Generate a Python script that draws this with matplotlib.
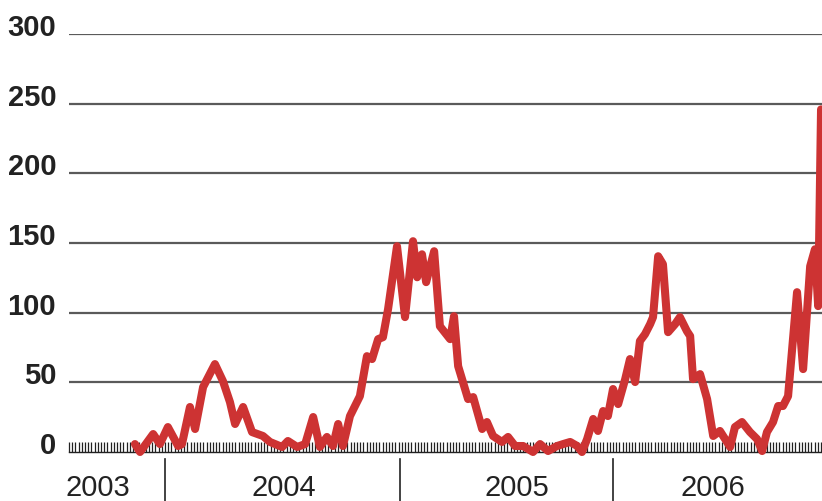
import matplotlib
matplotlib.use("Agg")
import matplotlib.pyplot as plt
import matplotlib.transforms as mtransforms
from matplotlib.ticker import MultipleLocator

plt.rcParams['font.family'] = ['Liberation Sans', 'DejaVu Sans']

# x in tick units along the time axis, y = reported count
x = [20.6, 22.2, 26.3, 28.4, 30.9, 34.1, 35.3, 37.8, 39.4, 41.9, 45.6, 48.1, 50.3, 51.9,
     54.4, 57.2, 60.6, 62.8, 66.6, 68.4, 71.3, 73.8, 76.3, 78.4, 80.6, 82.5, 84.1, 85.6,
     87.8, 90.9, 93.1, 94.7, 96.6, 98.1, 99.7, 102.5, 105.0, 107.5, 108.8, 110.3, 111.6,
     114.1, 115.9, 119.1, 120.3, 121.6, 124.7, 126.3, 129.1, 130.6, 132.5, 135.3, 137.2,
     139.4, 141.9, 145.0, 147.2, 149.7, 152.5, 154.4, 156.6, 158.8, 160.3, 161.9, 163.8,
     165.3, 166.9, 168.4, 170.0, 171.6, 173.8, 175.3, 176.9, 178.4, 180.0, 181.6, 182.5,
     184.1, 185.6, 187.2, 189.4, 190.9, 193.1, 194.1, 195.0, 197.2, 199.4, 201.3, 203.4,
     205.6, 206.6, 208.1, 210.3, 212.8, 215.0, 216.6, 218.1, 220.0, 221.6, 223.1, 224.7,
     227.5, 229.4, 231.6, 233.1, 234.1, 235.0]
y = [5.7, 0, 12.9, 5.7, 17.9, 4.3, 5.7, 32.3, 16.5, 46.6, 63.1, 50.9, 35.8, 20.1,
     32.3, 14.3, 11.5, 7.2, 3.6, 7.9, 3.6, 5.7, 25.1, 3.6, 10.8, 4.3, 20.1, 4.3,
     25.8, 40.1, 68.8, 66.7, 81, 82.4, 102.5, 147.7, 96.8, 151.3, 125.4, 141.9, 121.9,
     144.1, 90.3, 81, 97.5, 61.6, 38, 39.4, 16.5, 21.5, 11.5, 7.2, 10.8,
     4.3, 4.3, 0, 5.7, 0.7, 4.3, 5.7, 7.2, 4.3, 0, 9.3, 23.7,
     15.1, 29.4, 25.8, 45.2, 34.4, 52.3, 66.7, 50.2, 79.6, 84.6, 91.8, 96.8,
     140.5, 134.8, 86, 91.8, 96.8, 86.7, 83.2, 52.3, 55.9, 38, 11.5, 15.1,
     7.2, 3.6, 17.9, 21.5, 14.3, 9.3, 0.7, 14.3, 21.5, 33, 33, 40.1,
     114.7, 59.5, 133.3, 145.5, 104.7, 245.9]

y_ticks = [0, 50, 100, 150, 200, 250, 300]
year_labels = ['2003', '2004', '2005', '2006']
year_label_pos = [9.1, 67.2, 140.0, 201.3]
year_breaks = [30.0, 103.4, 170.0]

fig = plt.figure(figsize=(8.22, 5.02), dpi=100)
ax = fig.add_axes([69 / 822, 49 / 502, 753 / 822, 418 / 502])
ax.set_xlim(0, 235.3)
ax.set_ylim(0, 300)

for s in ['top', 'right', 'left']:
    ax.spines[s].set_visible(False)
ax.spines['bottom'].set_color('#222222')
ax.spines['bottom'].set_linewidth(1.0)

for v in y_ticks[1:]:
    ax.axhline(v, color='#5a5a5a', lw=1.6, zorder=1)

ax.set_yticks([])
ax.xaxis.set_major_locator(MultipleLocator(1))
ax.set_xticklabels([])
ax.tick_params(axis='x', which='major', direction='in', length=7, width=0.9,
               color='#222222', labelbottom=False)

ax.plot(x, y, color='#cd3333', lw=5.8, solid_joinstyle='round',
        solid_capstyle='round', clip_on=False, zorder=3)

# y labels sit a little above each gridline
ytrans = ax.get_yaxis_transform() + mtransforms.ScaledTranslation(0, 5 / 72, fig.dpi_scale_trans)
for v in y_ticks:
    ax.text(-0.017, v, str(v), transform=ytrans, ha='right', va='center',
            fontsize=21, fontweight='bold', color='#222222')

xtrans = ax.get_xaxis_transform()
for lab, pos in zip(year_labels, year_label_pos):
    ax.text(pos, -0.083, lab, transform=xtrans, ha='center', va='center',
            fontsize=21, color='#222222')
for b in year_breaks:
    ax.plot([b, b], [-0.017, -0.117], transform=xtrans, color='#222222',
            lw=1.2, clip_on=False)

fig.savefig('out.png', dpi=100)
